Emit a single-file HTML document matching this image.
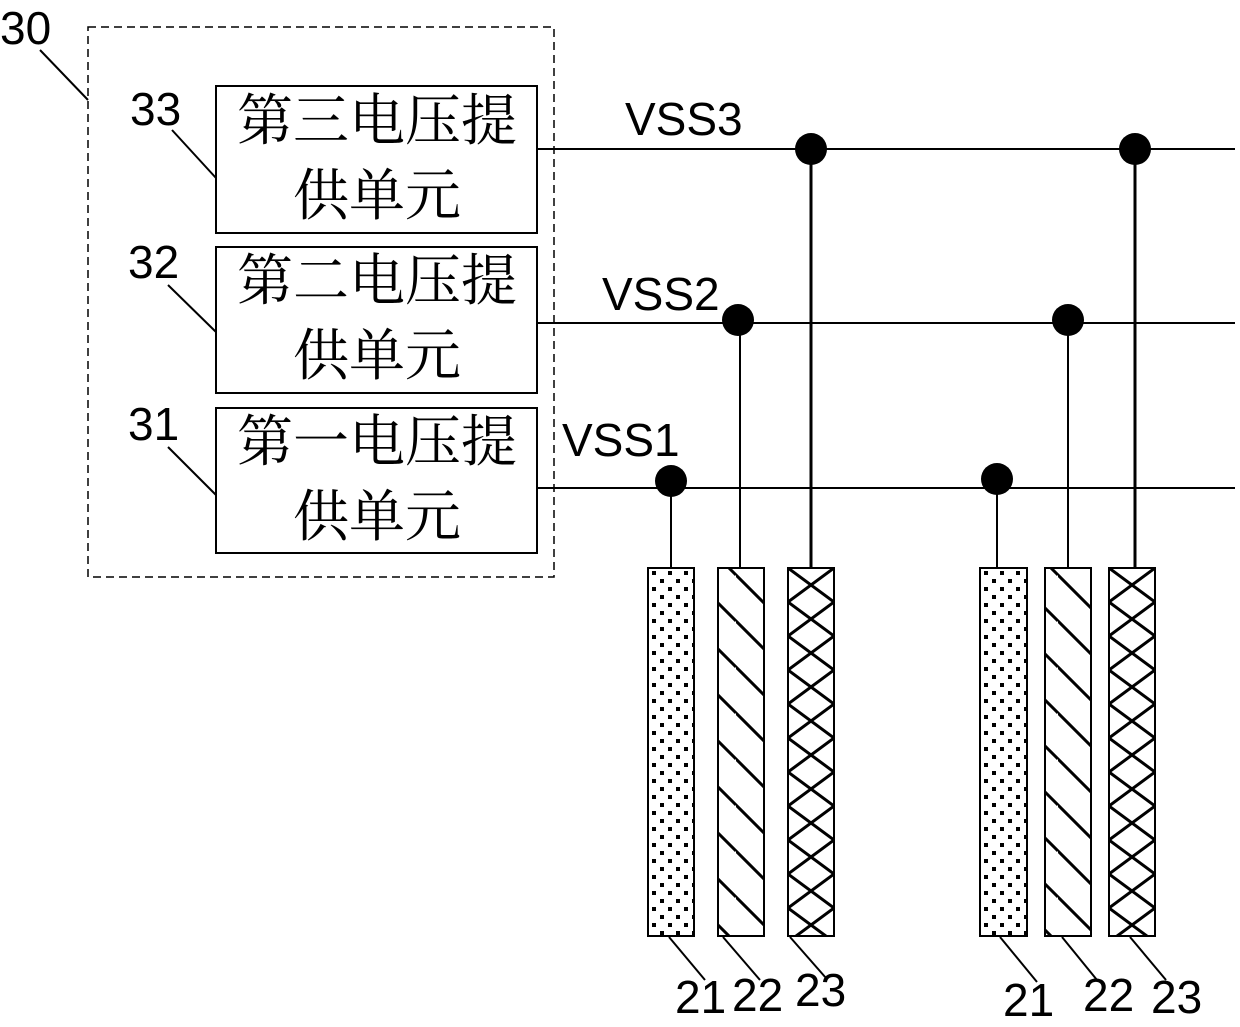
<!DOCTYPE html>
<html><head><meta charset="utf-8"><style>html,body{margin:0;padding:0;background:#fff}</style></head>
<body>
<svg width="1240" height="1022" viewBox="0 0 1240 1022" xmlns="http://www.w3.org/2000/svg">
<defs>
<pattern id="dots" width="16" height="16" patternUnits="userSpaceOnUse" x="648" y="568">
<rect x="4" y="3" width="4" height="4" fill="#000"/><rect x="12" y="11" width="4" height="4" fill="#000"/>
</pattern>
<pattern id="diag" width="46" height="46" patternUnits="userSpaceOnUse" x="0" y="0">
<path d="M-23,0 L23,46 M0,-23 L46,23 M-46,-23 L46,69" stroke="#000" stroke-width="3" fill="none"/>
</pattern>
<pattern id="cross" width="46" height="34" patternUnits="userSpaceOnUse" x="788" y="568">
<path d="M0,0 L46,34 M46,0 L0,34" stroke="#000" stroke-width="3"/>
</pattern>
<pattern id="cross2" width="46" height="34" patternUnits="userSpaceOnUse" x="1109" y="568">
<path d="M0,0 L46,34 M46,0 L0,34" stroke="#000" stroke-width="3"/>
</pattern>
<pattern id="dots2" width="16" height="16" patternUnits="userSpaceOnUse" x="980" y="568">
<rect x="4" y="3" width="4" height="4" fill="#000"/><rect x="12" y="11" width="4" height="4" fill="#000"/>
</pattern>
</defs>
<g font-family="Liberation Sans, DejaVu Sans, sans-serif" font-size="46" fill="#000">
<rect x="88" y="27" width="466" height="550" fill="none" stroke="#000" stroke-width="1.5" stroke-dasharray="8,5"/>
<text x="0" y="44">30</text>
<line x1="40" y1="50" x2="88" y2="100" stroke="#000" stroke-width="2"/>
<g fill="none" stroke="#000" stroke-width="2">
<rect x="216" y="86" width="321" height="147"/>
<rect x="216" y="247" width="321" height="146"/>
<rect x="216" y="408" width="321" height="145"/>
<line x1="172" y1="130" x2="216" y2="178"/>
<line x1="168" y1="285" x2="216" y2="332"/>
<line x1="168" y1="447" x2="216" y2="495"/>
<line x1="537" y1="149" x2="1235" y2="149"/>
<line x1="537" y1="323" x2="1235" y2="323"/>
<line x1="537" y1="488" x2="1235" y2="488"/>
<line x1="811" y1="149" x2="811" y2="568" stroke-width="3"/>
<line x1="1135" y1="149" x2="1135" y2="568" stroke-width="3"/>
<line x1="740" y1="320" x2="740" y2="568"/>
<line x1="1068" y1="320" x2="1068" y2="568"/>
<line x1="671" y1="481" x2="671" y2="568"/>
<line x1="997" y1="479" x2="997" y2="568"/>
</g>
<text x="130" y="125">33</text>
<text x="128" y="278">32</text>
<text x="128" y="440">31</text>
<g font-family="Noto Serif CJK SC, serif" font-size="56" text-anchor="middle">
<text x="377" y="140">第三电压提</text><text x="377" y="215">供单元</text>
<text x="377" y="300">第二电压提</text><text x="377" y="375">供单元</text>
<text x="377" y="461">第一电压提</text><text x="377" y="536">供单元</text>
</g>
<text x="625" y="135">VSS3</text>
<text x="602" y="310">VSS2</text>
<text x="562" y="456">VSS1</text>
<g fill="#000">
<circle cx="811" cy="149" r="16"/><circle cx="1135" cy="149" r="16"/>
<circle cx="738" cy="320" r="16"/><circle cx="1068" cy="320" r="16"/>
<circle cx="671" cy="481" r="16"/><circle cx="997" cy="479" r="16"/>
</g>
<g stroke="#000" stroke-width="2">
<rect x="648" y="568" width="46" height="368" fill="url(#dots)"/>
<rect x="718" y="568" width="46" height="368" fill="url(#diag)"/>
<rect x="788" y="568" width="46" height="368" fill="url(#cross)"/>
<rect x="980" y="568" width="47" height="368" fill="url(#dots2)"/>
<rect x="1045" y="568" width="46" height="368" fill="url(#diag)"/>
<rect x="1109" y="568" width="46" height="368" fill="url(#cross2)"/>
<line x1="669" y1="937" x2="705" y2="980"/>
<line x1="723" y1="937" x2="760" y2="980"/>
<line x1="790" y1="937" x2="826" y2="978"/>
<line x1="1000" y1="937" x2="1037" y2="982"/>
<line x1="1062" y1="937" x2="1097" y2="980"/>
<line x1="1130" y1="937" x2="1166" y2="980"/>
</g>
<text x="675" y="1013">21</text>
<text x="732" y="1011">22</text>
<text x="795" y="1006">23</text>
<text x="1003" y="1016">21</text>
<text x="1083" y="1011">22</text>
<text x="1151" y="1013">23</text>
</g>
</svg>
</body></html>
